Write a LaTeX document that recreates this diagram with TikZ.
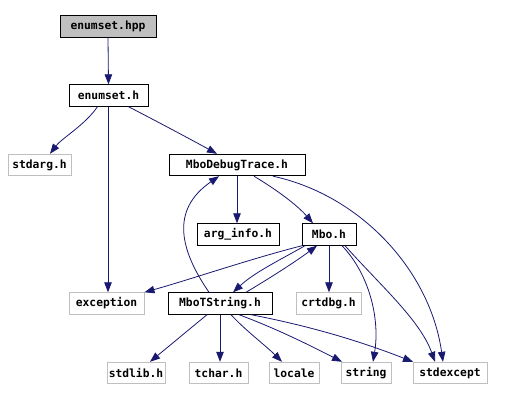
\documentclass[tikz,border=0pt]{standalone}
\usepackage{fontspec}
\newfontfamily\monofnt{DejaVu Sans Mono}
\usetikzlibrary{arrows.meta}
\definecolor{edgecol}{HTML}{191970}
\definecolor{grayb}{HTML}{BFBFBF}
\tikzset{
  box/.style={draw=black, line width=0.9pt, inner sep=0pt, minimum height=21.5pt,
    font=\monofnt\bfseries\fontsize{11.3}{12}\selectfont, text=black},
  extbox/.style={box, draw=grayb},
  dep/.style={draw=edgecol, line width=0.8pt, -{Triangle[length=10pt,width=7.5pt]}, color=edgecol},
}
\begin{document}
\begin{tikzpicture}[x=1pt,y=-1pt]
\useasboundingbox (0,0) rectangle (517,401);
\node[box, fill=grayb, minimum width=96pt] (hpp) at (108,26.5) {enumset.hpp};
\node[box, minimum width=79pt] (eh) at (108.5,95.5) {enumset.h};
\node[extbox, minimum width=63pt] (stdarg) at (39.5,165) {stdarg.h};
\node[box, minimum width=136pt] (mdt) at (237,165) {MboDebugTrace.h};
\node[box, minimum width=82pt] (arg) at (238,234.5) {arg\_info.h};
\node[box, minimum width=54pt] (mbo) at (329,234.5) {Mbo.h};
\node[extbox, minimum width=75pt] (exc) at (106.5,303.5) {exception};
\node[box, minimum width=104pt] (mts) at (220,303.5) {MboTString.h};
\node[extbox, minimum width=65pt] (crt) at (328.5,303.5) {crtdbg.h};
\node[extbox, minimum width=58pt] (stdlib) at (136,373) {stdlib.h};
\node[extbox, minimum width=59pt] (tchar) at (218.5,373) {tchar.h};
\node[extbox, minimum width=50pt] (locale) at (294,373) {locale};
\node[extbox, minimum width=50pt] (string) at (366,373) {string};
\node[extbox, minimum width=74pt] (stdexcept) at (450,373) {stdexcept};

\draw[dep] (hpp.south) -- (eh.north);
\draw[dep] ([xshift=-11pt]eh.south) .. controls (85,125) and (62,138) .. ([xshift=10.5pt]stdarg.north);
\draw[dep] ([xshift=-0.5pt]eh.south) -- ([xshift=1.5pt]exc.north);
\draw[dep] ([xshift=20pt]eh.south) .. controls (160,123) and (190,139) .. ([xshift=-20pt]mdt.north);
\draw[dep] (mdt.south) -- ([xshift=-1pt]arg.north);
\draw[dep] ([xshift=17pt]mdt.south) .. controls (277,190) and (297,205) .. ([xshift=-16pt]mbo.north);
\draw[dep] ([xshift=36pt]mdt.south) .. controls (360,195) and (430,270) .. ([xshift=-7pt]stdexcept.north);
\draw[dep] ([xshift=-27pt]mbo.south) .. controls (250,259) and (195,278) .. (exc.north east);
\draw[dep] ([xshift=-24pt]mbo.south) .. controls (280,260) and (255,272) .. ([xshift=13pt]mts.north);
\draw[dep] ([xshift=26pt]mts.north) .. controls (270,278) and (295,262) .. ([xshift=-12pt]mbo.south);
\draw[dep] (mbo.south) -- ([xshift=0.5pt]crt.north);
\draw[dep] ([xshift=13pt]mbo.south) .. controls (370,275) and (380,320) .. ([xshift=7pt]string.north);
\draw[dep] ([xshift=16pt]mbo.south) .. controls (380,285) and (420,320) .. ([xshift=-15pt]stdexcept.north);
\draw[dep] ([xshift=-11pt]mts.north) .. controls (180,250) and (170,210) .. ([xshift=-18pt]mdt.south);
\draw[dep] ([xshift=-13pt]mts.south) -- ([xshift=14pt]stdlib.north);
\draw[dep] (mts.south) -- ([xshift=1.5pt]tchar.north);
\draw[dep] ([xshift=11pt]mts.south) .. controls (245,330) and (265,345) .. ([xshift=-12pt]locale.north);
\draw[dep] ([xshift=19pt]mts.south) .. controls (280,330) and (315,348) .. ([xshift=-24pt]string.north);
\draw[dep] ([xshift=31pt]mts.south) .. controls (320,328) and (370,345) .. ([xshift=-37pt]stdexcept.north);
\end{tikzpicture}
\end{document}
